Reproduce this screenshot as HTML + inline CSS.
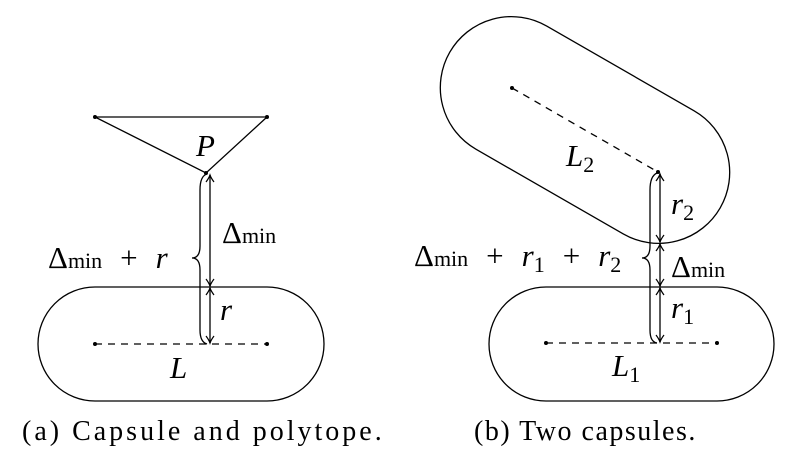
<!DOCTYPE html>
<html><head><style>body{margin:0;background:#fff}</style></head><body>
<svg width="789" height="471" viewBox="0 0 789 471" xmlns="http://www.w3.org/2000/svg">
<defs><marker id="a" markerWidth="10" markerHeight="10" refX="8" refY="5" orient="auto-start-reverse" markerUnits="userSpaceOnUse"><path d="M1,1 Q5,4 8,5 Q5,6 1,9" fill="none" stroke="#000" stroke-width="1.2"/></marker></defs>
<g fill="none" stroke="#000" stroke-width="1.3">
<rect x="38" y="287" width="286" height="114" rx="57"/>
<line x1="95" y1="344" x2="267" y2="344" stroke-dasharray="7,6"/>
<polygon points="95,117 267,117 206,173"/>
<line x1="210" y1="175" x2="210" y2="286" marker-start="url(#a)" marker-end="url(#a)"/>
<line x1="210" y1="288" x2="210" y2="343" marker-start="url(#a)" marker-end="url(#a)"/>
<path d="M207,174 Q200,176 200,190 L200,246 Q200,258 192,258 Q200,258 200,270 L200,330 Q200,342 207,344"/>
<rect x="489" y="287" width="285" height="114" rx="57"/>
<line x1="546" y1="343" x2="717" y2="343" stroke-dasharray="7,6"/>
<g transform="translate(585,130) rotate(29.9)"><rect x="-156" y="-71" width="312" height="142" rx="71"/></g>
<line x1="512" y1="88" x2="658" y2="172" stroke-dasharray="7,6"/>
<line x1="660" y1="174" x2="660" y2="242" marker-start="url(#a)" marker-end="url(#a)"/>
<line x1="660" y1="244" x2="660" y2="286" marker-start="url(#a)" marker-end="url(#a)"/>
<line x1="660" y1="288" x2="660" y2="342" marker-start="url(#a)" marker-end="url(#a)"/>
<path d="M657,173 Q650,176 650,190 L650,246 Q650,258 642,258 Q650,258 650,270 L650,330 Q650,342 657,343"/>
</g>
<g fill="#000"><circle cx="95" cy="117" r="2"/><circle cx="267" cy="117" r="2"/><circle cx="206" cy="173" r="2"/><circle cx="95" cy="344" r="2"/><circle cx="267" cy="344" r="2"/><circle cx="546" cy="343" r="2"/><circle cx="717" cy="343" r="2"/><circle cx="512" cy="88" r="2"/><circle cx="658" cy="172" r="2"/></g>
<g font-size="31" font-family="'Liberation Serif','DejaVu Serif',serif">
<text x="196" y="156" font-style="italic">P</text>
<text x="222" y="243">Δ<tspan font-size="22">min</tspan></text>
<text x="48" y="268">Δ<tspan font-size="22">min</tspan><tspan dx="18">+</tspan><tspan dx="18" font-style="italic">r</tspan></text>
<text x="220" y="320" font-style="italic">r</text>
<text x="170" y="378" font-style="italic">L</text>
<text x="566" y="166" font-style="italic">L<tspan font-size="22" font-style="normal" dy="6">2</tspan></text>
<text x="671" y="214" font-style="italic">r<tspan font-size="22" font-style="normal" dy="6">2</tspan></text>
<text x="671" y="277">Δ<tspan font-size="22">min</tspan></text>
<text x="414" y="266">Δ<tspan font-size="22">min</tspan><tspan dx="18">+</tspan><tspan dx="18" font-style="italic">r</tspan><tspan font-size="22" dy="6">1</tspan><tspan dy="-6" dx="18">+</tspan><tspan dx="18" font-style="italic">r</tspan><tspan font-size="22" dy="6">2</tspan></text>
<text x="671" y="318" font-style="italic">r<tspan font-size="22" font-style="normal" dy="6">1</tspan></text>
<text x="612" y="376" font-style="italic">L<tspan font-size="22" font-style="normal" dy="6">1</tspan></text>
</g>
<g font-size="28" font-family="'Liberation Serif','DejaVu Serif',serif">
<text x="22" y="440" letter-spacing="3">(a) Capsule and polytope.</text>
<text x="474" y="440" letter-spacing="1.5">(b) Two capsules.</text>
</g>
</svg>
</body></html>
